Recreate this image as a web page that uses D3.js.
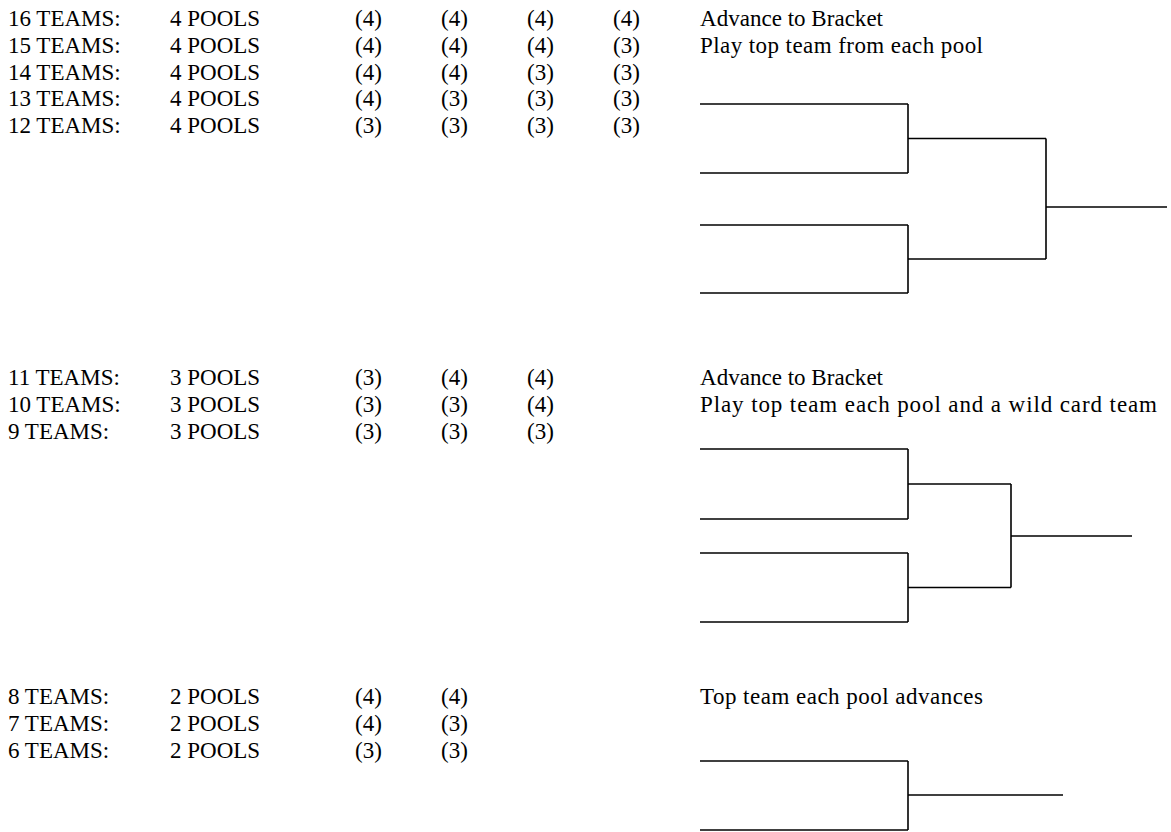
<!DOCTYPE html>
<html>
<head>
<meta charset="utf-8">
<script src="https://cdn.jsdelivr.net/npm/d3@7"></script>
<style>
  body { margin: 0; background: #fff; }
</style>
</head>
<body>
<div id="chart"></div>
<script>
(() => {
const width = 1171;
const height = 832;

// pool breakdown per team count
const teamCounts = [16, 15, 14, 13, 12, 11, 10, 9, 8, 7, 6];
const poolCounts = [4, 4, 4, 4, 4, 3, 3, 3, 2, 2, 2];
const poolSizes = [
  [4, 4, 4, 4], [4, 4, 4, 3], [4, 4, 3, 3], [4, 3, 3, 3], [3, 3, 3, 3],
  [3, 4, 4], [3, 3, 4], [3, 3, 3],
  [4, 4], [4, 3], [3, 3]
];
const groupOf = [0, 0, 0, 0, 0, 1, 1, 1, 2, 2, 2];
const groupNotes = [
  ["Advance to Bracket", "Play top team from each pool"],
  ["Advance to Bracket", "Play top team each pool and a wild card team"],
  ["Top team each pool advances"]
];
const bracketTeams = [4, 4, 2];

// layout
const groupTop = [26, 385, 704];
const rowStep = 26.8;
const colX = { teams: 8, pools: 170, note: 700 };
const poolX = d3.scaleLinear().domain([0, 1]).range([355, 441]);
const noteWidths = [[183, 283], [183, 457], [283]];

const brackets = [
  { leaves: [104, 173, 225, 293], x: [700, 908, 1046, 1167], finalY: 207 },
  { leaves: [449, 519, 553, 622], x: [700, 908, 1011, 1132], finalY: 536 },
  { leaves: [761, 830], x: [700, 908, 1063], finalY: 795 }
];

const svg = d3.select("#chart").append("svg")
  .attr("width", width).attr("height", height)
  .attr("font-family", "'Liberation Serif', 'Times New Roman', Times, serif")
  .attr("font-size", 23);

// row index inside its group
const rows = teamCounts.map((t, i) => {
  const g = groupOf[i];
  const k = groupOf.slice(0, i).filter(v => v === g).length;
  return { teams: t, pools: poolCounts[i], sizes: poolSizes[i], y: groupTop[g] + k * rowStep };
});

const rowG = svg.append("g").attr("class", "rows").selectAll("g")
  .data(rows).join("g")
  .attr("transform", d => `translate(0,${d.y})`);

rowG.append("text").attr("x", colX.teams).text(d => `${d.teams} TEAMS:`);
rowG.append("text").attr("x", colX.pools).text(d => `${d.pools} POOLS`);
rowG.selectAll("text.size").data(d => d.sizes).join("text")
  .attr("class", "size")
  .attr("x", (d, i) => poolX(i))
  .text(d => `(${d})`);

// notes
groupNotes.forEach((notes, g) => {
  svg.append("g").selectAll("text").data(notes).join("text")
    .attr("x", colX.note)
    .attr("y", (d, i) => groupTop[g] + i * rowStep)
    .attr("textLength", (d, i) => noteWidths[g][i])
    .attr("lengthAdjust", "spacing")
    .text(d => d);
});

// brackets
const line = d3.line();
brackets.forEach((b, bi) => {
  const n = bracketTeams[bi];
  const y = d3.scaleLinear().domain(d3.range(n)).range(b.leaves);
  const x = d3.scaleLinear().domain(d3.range(b.x.length)).range(b.x);
  const g = svg.append("g").attr("class", "bracket")
    .attr("fill", "none").attr("stroke", "#000").attr("stroke-width", 1.6);

  let nodes = d3.range(n).map(i => y(i));
  let round = 0;
  nodes.forEach(v => g.append("path").attr("d", line([[x(0), v], [x(1), v]])));
  while (nodes.length > 1) {
    const next = [];
    for (let i = 0; i < nodes.length; i += 2) {
      const a = nodes[i], c = nodes[i + 1];
      g.append("path").attr("d", line([[x(round + 1), a], [x(round + 1), c]]));
      const mid = nodes.length === 2 ? b.finalY : (a + c) / 2;
      g.append("path").attr("d", line([[x(round + 1), mid], [x(round + 2), mid]]));
      next.push(mid);
    }
    nodes = next;
    round++;
  }
});
})();
</script>
</body>
</html>
